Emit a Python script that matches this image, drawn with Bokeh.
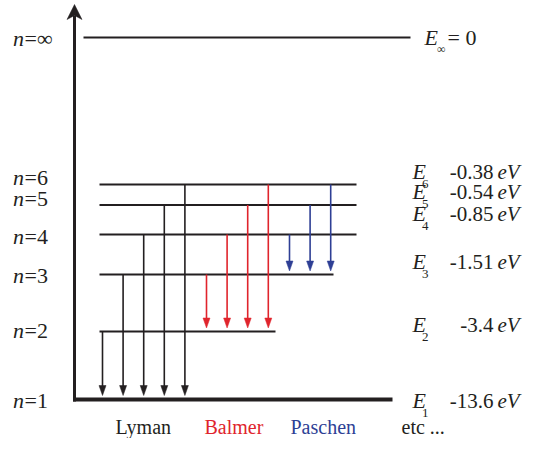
from bokeh.plotting import figure
from bokeh.models import Range1d
from bokeh.core.properties import value
from bokeh.embed import file_html
from bokeh.resources import INLINE

# ---------------- data ----------------
levels = [1, 2, 3, 4, 5, 6]
energies_ev = [-13.6, -3.4, -1.51, -0.85, -0.54, -0.38]
level_heights = [0, 68, 125, 165, 194.5, 215]   # schematic drawing height of each level
inf_height = 362                                 # schematic height of n = infinity (E = 0)
series_names = ["Lyman", "Balmer", "Paschen"]
series_final = [1, 2, 3]
series_colors = ["#231f20", "#e0242c", "#2e3f95"]
extra_label = "etc ..."

# ---------------- layout / style ----------------
INK = "#231f20"
FONT = value("Liberation Serif")
W, H = 523, 438

level_x_start = [72.5, 99, 99, 99, 99, 99]
level_x_end = [392, 275, 333, 356, 356, 356]
level_widths = [4, 2, 2, 2, 2, 2]
series_start_x = [102, 206, 289]
arrow_step = 20.6
left_label_y = [-1, 69, 124, 163, 201, 222]
right_label_y = [-1, 75, 138, 186, 208, 228]
bottom_label_x = [115, 204, 290]

p = figure(width=W, height=H, x_range=Range1d(0, W), y_range=Range1d(399 - H, 399),
           output_backend="svg", toolbar_location=None, min_border=0,
           x_axis_location=None, y_axis_location=None)
p.grid.visible = False
p.outline_line_color = None
p.background_fill_color = "white"
p.border_fill_color = "white"

h = dict(zip(levels, level_heights))

# energy levels
p.segment(x0=level_x_start, y0=level_heights, x1=level_x_end, y1=level_heights,
          line_width=level_widths, line_color=INK)
p.segment(x0=[83], y0=[inf_height], x1=[410], y1=[inf_height], line_width=2, line_color=INK)

# vertical energy axis with arrow
p.segment(x0=[74], y0=[-2], x1=[74], y1=[inf_height + 22], line_width=3, line_color=INK)
p.patch(x=[74, 66.5, 74, 81.5], y=[inf_height + 33, inf_height + 18, inf_height + 22, inf_height + 18],
        fill_color=INK, line_color=INK, line_width=0.5)

# transitions
for name, lo, col, x0 in zip(series_names, series_final, series_colors, series_start_x):
    uppers = [n for n in levels if n > lo]
    xs = [x0 + i * arrow_step for i in range(len(uppers))]
    tops = [h[n] for n in uppers]
    tip = h[lo] + (4 if lo == 1 else 3.5)
    p.segment(x0=xs, y0=tops, x1=xs, y1=[tip + 6] * len(xs), line_width=1.6, line_color=col)
    p.patches(xs=[[x - 3.5, x + 3.5, x] for x in xs], ys=[[tip + 10, tip + 10, tip] for _ in xs],
              fill_color=col, line_color=col, line_width=0.5)

# left labels n=...
p.text(x=[23.5] * (len(levels) + 1), y=left_label_y + [inf_height - 1], text=["n"] * (len(levels) + 1),
       text_font=FONT, text_font_style="italic", text_font_size="22px", text_align="right",
       text_baseline="middle", text_color=INK)
p.text(x=[24] * (len(levels) + 1), y=left_label_y + [inf_height - 1],
       text=["=%d" % n for n in levels] + ["=\u221e"],
       text_font=FONT, text_font_size="22px", text_align="left", text_baseline="middle", text_color=INK)

# right labels E_n and energies
p.text(x=[412] * len(levels), y=right_label_y, text=["E"] * len(levels),
       text_font=FONT, text_font_style="italic", text_font_size="22px", text_align="left",
       text_baseline="middle", text_color=INK)
p.text(x=[421.5] * len(levels), y=[v - 12 for v in right_label_y], text=[str(n) for n in levels],
       text_font=FONT, text_font_size="13px", text_align="left", text_baseline="middle", text_color=INK)
p.text(x=[493] * len(levels), y=right_label_y, text=["%g" % e for e in energies_ev],
       text_font=FONT, text_font_size="21px", text_align="right", text_baseline="middle", text_color=INK)
p.text(x=[497] * len(levels), y=right_label_y, text=["eV"] * len(levels),
       text_font=FONT, text_font_style="italic", text_font_size="21px", text_align="left",
       text_baseline="middle", text_color=INK)

# E_inf = 0
p.text(x=[424], y=[inf_height], text=["E"], text_font=FONT, text_font_style="italic",
       text_font_size="22px", text_align="left", text_baseline="middle", text_color=INK)
p.text(x=[436.5], y=[inf_height - 11], text=["\u221e"], text_font=FONT, text_font_size="12px",
       text_align="left", text_baseline="middle", text_color=INK)
p.text(x=[447], y=[inf_height], text=["= 0"], text_font=FONT, text_font_size="22px",
       text_align="left", text_baseline="middle", text_color=INK)

# series names
p.text(x=bottom_label_x, y=[-27] * 3, text=series_names, text_font=FONT, text_font_size="20px",
       text_align="left", text_baseline="middle", text_color=series_colors)
p.text(x=[401], y=[-27], text=[extra_label], text_font=FONT, text_font_size="20px",
       text_align="left", text_baseline="middle", text_color=INK)

open("out.html", "w").write(file_html(p, INLINE))
